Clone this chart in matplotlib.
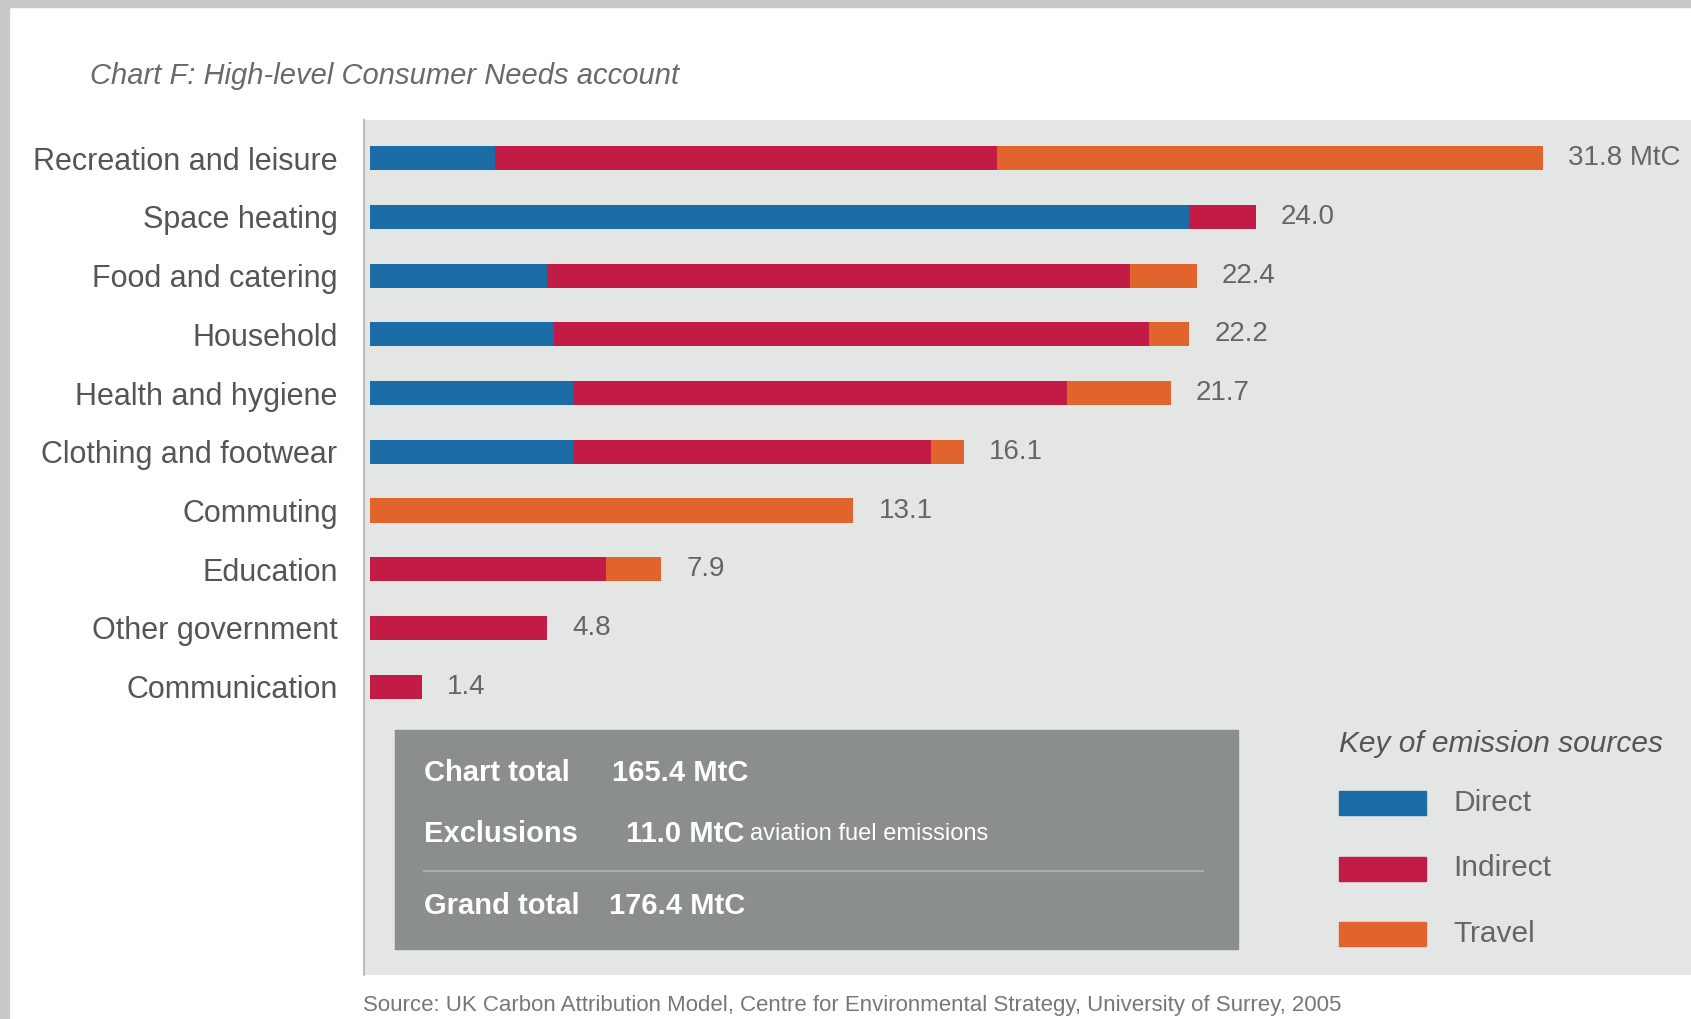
import matplotlib
matplotlib.use("Agg")
import matplotlib.pyplot as plt
from matplotlib.patches import Rectangle
from matplotlib.lines import Line2D

plt.rcParams['font.family'] = ['Liberation Sans', 'DejaVu Sans']

# Consumer needs, emissions in MtC split by source
categories = ['Recreation and leisure', 'Space heating', 'Food and catering',
              'Household', 'Health and hygiene', 'Clothing and footwear',
              'Commuting', 'Education', 'Other government', 'Communication']
direct = [3.4, 22.2, 4.8, 5.0, 5.5, 5.5, 0.0, 0.0, 0.0, 0.0]
indirect = [13.6, 1.8, 15.8, 16.1, 13.4, 9.7, 0.0, 6.4, 4.8, 1.4]
travel = [14.8, 0.0, 1.8, 1.1, 2.8, 0.9, 13.1, 1.5, 0.0, 0.0]
value_labels = ['31.8 MtC', '24.0', '22.4', '22.2', '21.7', '16.1',
                '13.1', '7.9', '4.8', '1.4']

sources = ['Direct', 'Indirect', 'Travel']
colors = ['#1b6ba6', '#c21b46', '#e0642b']

chart_total = '165.4 MtC'
exclusions = '11.0 MtC'
exclusions_note = 'aviation fuel emissions'
grand_total = '176.4 MtC'

W, H = 1691, 1019


def fx(x):
    return x / W


def fy(y):
    return 1 - y / H


fig = plt.figure(figsize=(W / 100, H / 100), dpi=100)
fig.patch.set_facecolor('white')

# grey page frame on the top and left edge
fig.add_artist(Rectangle((0, 0), fx(9), 1, transform=fig.transFigure,
                         color='#c9c9c9', zorder=0))
fig.add_artist(Rectangle((0, fy(7)), 1, 7 / H, transform=fig.transFigure,
                         color='#c9c9c9', zorder=0))

ax = fig.add_axes([fx(364), fy(975), fx(1691) - fx(364), fy(120) - fy(975)])
ax.set_facecolor('#e4e6e6')

ypos = list(range(len(categories)))
left = [0.0] * len(categories)
for vals, name, col in zip([direct, indirect, travel], sources, colors):
    ax.barh(ypos, vals, left=left, height=0.41, color=col, label=name)
    left = [l + v for l, v in zip(left, vals)]

for y, total, lab in zip(ypos, left, value_labels):
    ax.text(total + 0.68, y, lab, va='center', ha='left',
            fontsize=20, color='#666666')

ax.set_xlim(-0.16, 35.8)
ax.set_ylim(13.91, -0.65)
ax.set_xticks([])
ax.set_yticks(ypos)
ax.set_yticklabels(categories, fontsize=22, color='#555555')
ax.tick_params(axis='y', length=0, pad=19)
for side in ['top', 'right', 'bottom']:
    ax.spines[side].set_visible(False)
ax.spines['left'].set_color('#b9bdbd')
ax.spines['left'].set_linewidth(1.5)

# title and source
fig.text(fx(90), fy(76), 'Chart F: High-level Consumer Needs account',
         fontsize=21, style='italic', color='#6a6a6a', va='center')
fig.text(fx(363), fy(1005),
         'Source: UK Carbon Attribution Model, Centre for Environmental Strategy, University of Surrey, 2005',
         fontsize=16, color='#777777', va='center')

# totals box
fig.add_artist(Rectangle((fx(395), fy(949)), fx(1238) - fx(395), fy(730) - fy(949),
                         transform=fig.transFigure, color='#8b8e8f', zorder=3))
box_txt = dict(color='white', fontsize=21, fontweight='bold', va='center', zorder=4)
fig.text(fx(424), fy(773), 'Chart total', **box_txt)
fig.text(fx(612), fy(773), chart_total, **box_txt)
fig.text(fx(424), fy(834), 'Exclusions', **box_txt)
fig.text(fx(626), fy(834), exclusions, **box_txt)
fig.text(fx(750), fy(834), exclusions_note, color='white', fontsize=17,
         va='center', zorder=4)
fig.add_artist(Line2D([fx(424), fx(1203)], [fy(871), fy(871)],
                      transform=fig.transFigure, color='#a9acad', lw=1.5, zorder=4))
fig.text(fx(424), fy(906), 'Grand total', **box_txt)
fig.text(fx(609), fy(906), grand_total, **box_txt)

# key
fig.text(fx(1339), fy(744), 'Key of emission sources', fontsize=21.5,
         style='italic', color='#555555', va='center')
for i, (name, col) in enumerate(zip(sources, colors)):
    yc = 803 + i * 65.5
    fig.add_artist(Rectangle((fx(1339), fy(yc + 12)), fx(1426) - fx(1339), 24 / H,
                             transform=fig.transFigure, color=col, zorder=3))
    fig.text(fx(1453), fy(yc), name, fontsize=21.5, color='#666666', va='center')

fig.savefig('out.png', dpi=100)
